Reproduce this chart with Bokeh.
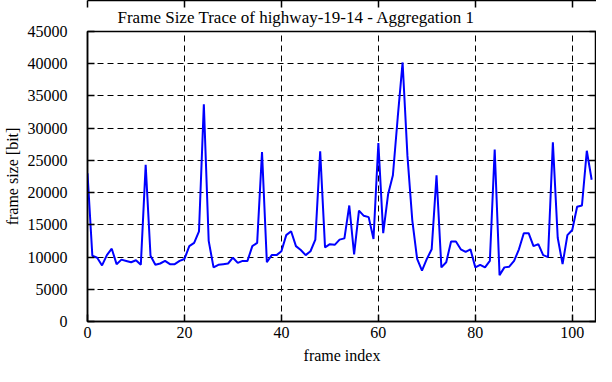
from bokeh.plotting import figure
from bokeh.models import (ColumnDataSource, FixedTicker, LinearAxis, Range1d, Title,
                          CustomJSTickFormatter)
from bokeh.embed import file_html
from bokeh.resources import INLINE

# ---- data ----
frame_index = list(range(105))
frame_size = [
    23000, 10200, 9900, 8700, 10300, 11300, 8900, 9600, 9400, 9200,
    9500, 8800, 24300, 10200, 8800, 9000, 9400, 8900, 8900, 9400,
    9700, 11700, 12200, 14000, 33700, 12500, 8400, 8800, 8900, 9000,
    9900, 9100, 9400, 9400, 11700, 12200, 26300, 9200, 10300, 10300,
    10900, 13400, 14000, 11700, 11100, 10300, 10900, 12700, 26400, 11500,
    12000, 11900, 12700, 12900, 18000, 10400, 17200, 16400, 16200, 12800,
    27700, 13700, 19700, 22700, 31700, 40200, 25700, 15700, 9700, 7900,
    9700, 11200, 22700, 8400, 9200, 12400, 12400, 11200, 10800, 11200,
    8400, 8800, 8400, 9400, 26700, 7200, 8400, 8500, 9400, 11200,
    13700, 13700, 11700, 12000, 10300, 10000, 27800, 13000, 8900, 13400,
    14200, 17800, 18000, 26500, 22000,
]
x_ticks = [0, 20, 40, 60, 80, 100]
y_ticks = [0, 5000, 10000, 15000, 20000, 25000, 30000, 35000, 40000, 45000]
title_text = "Frame Size Trace of highway-19-14 - Aggregation 1"
x_label = "frame index"
y_label = "frame size [bit]"

FONT = "Liberation Serif"

src = ColumnDataSource(data=dict(x=frame_index, y=frame_size))

p = figure(width=596, height=366, output_backend="svg", toolbar_location=None,
           x_range=Range1d(0, 105), y_range=Range1d(0, 45000),
           min_border_left=86, min_border_right=0, min_border_top=30,
           min_border_bottom=44, background_fill_color="white",
           border_fill_color="white")

t = Title(text=title_text, align="left", offset=30, text_font=FONT,
          text_font_size="17px", text_font_style="normal", text_color="black",
          standoff=10)
p.add_layout(t, "above")

p.line("x", "y", source=src, line_color="#0000ff", line_width=2)

p.outline_line_color = "black"
p.outline_line_width = 1.5

for ax in (p.xaxis[0], p.yaxis[0]):
    ax.major_tick_in = 7
    ax.major_tick_out = 0
    ax.minor_tick_in = 0
    ax.minor_tick_out = 0
    ax.axis_line_color = "black"
    ax.axis_line_width = 1.5
    ax.major_tick_line_width = 1.5
    ax.major_label_text_font = FONT
    ax.major_label_text_font_size = "16px"
    ax.major_label_text_color = "black"
    ax.axis_label_text_font = FONT
    ax.axis_label_text_font_size = "16px"
    ax.axis_label_text_font_style = "normal"
    ax.axis_label_text_color = "black"

p.xaxis[0].ticker = FixedTicker(ticks=x_ticks)
p.yaxis[0].ticker = FixedTicker(ticks=y_ticks)
p.xaxis[0].axis_label = x_label
p.yaxis[0].axis_label = y_label
p.xaxis[0].major_label_standoff = 5
p.xaxis[0].axis_label_standoff = 6
p.yaxis[0].major_label_standoff = 20
p.yaxis[0].axis_label_standoff = 4

# mirrored ticks on top and right (no labels)
blank = CustomJSTickFormatter(code="return '';")
top = LinearAxis(ticker=FixedTicker(ticks=x_ticks), formatter=blank,
                 major_tick_in=7, major_tick_out=0, minor_tick_in=0, minor_tick_out=0,
                 axis_line_width=1.5, major_tick_line_width=1.5, major_label_standoff=0)
right = LinearAxis(ticker=FixedTicker(ticks=y_ticks), formatter=blank,
                   major_tick_in=7, major_tick_out=0, minor_tick_in=0, minor_tick_out=0,
                   axis_line_width=1.5, major_tick_line_width=1.5, major_label_standoff=0)
p.add_layout(top, "above")
p.add_layout(right, "right")

for g, ticks in ((p.xgrid[0], x_ticks), (p.ygrid[0], y_ticks)):
    g.ticker = FixedTicker(ticks=ticks)
    g.grid_line_color = "black"
    g.grid_line_dash = "6 4"
    g.grid_line_width = 1

open("out.html", "w").write(file_html(p, INLINE))
